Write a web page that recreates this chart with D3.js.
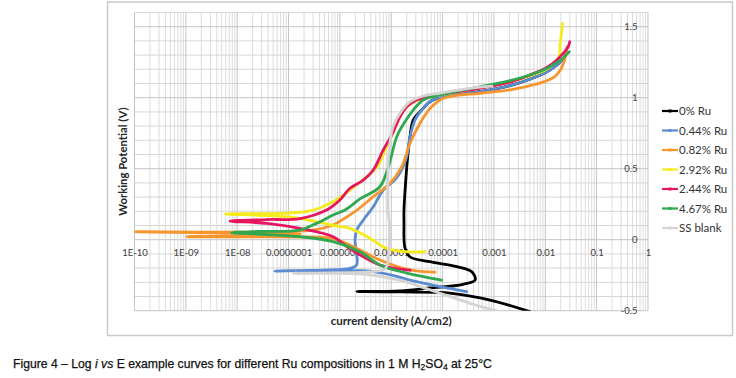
<!DOCTYPE html>
<html>
<head>
<meta charset="utf-8">
<script src="https://cdn.jsdelivr.net/npm/d3@7"></script>
<style>
  body { margin: 0; background: #fff; }
  svg { display: block; }
</style>
</head>
<body>
<div id="chart"></div>
<script>
// Polarisation curves, each point is [current density (A/cm2), potential (V)] in scan order
const ru0 = [[5.0e-3,-0.507],[8.4e-4,-0.425],[1.39e-4,-0.377],[8.9e-5,-0.371],[1.48e-5,-0.368],[2.15e-6,-0.365],[1.5e-5,-0.36],[5.7e-5,-0.34],[2.5e-4,-0.314],[4.3e-4,-0.284],[3.74e-4,-0.227],[1.9e-4,-0.19],[5.7e-5,-0.155],[2.3e-5,-0.12],[1.85e-5,-0.058],[1.77e-5,0.118],[1.77e-5,0.209],[1.94e-5,0.444],[2.06e-5,0.561],[2.32e-5,0.725],[2.68e-5,0.843],[3.9e-5,0.913],[5.7e-5,0.972],[1.03e-4,1.007],[5.3e-4,1.042],[2.06e-3,1.085],[5.0e-3,1.13],[9.9e-3,1.175],[1.55e-2,1.22],[2.2e-2,1.27],[2.65e-2,1.321]];
const ru044 = [[2.94e-4,-0.366],[8.9e-5,-0.331],[3.13e-5,-0.296],[4.47e-6,-0.225],[5.4e-8,-0.221],[6.4e-7,-0.213],[1.57e-6,-0.201],[2.12e-6,-0.178],[1.97e-6,-0.002],[2.12e-6,0.068],[2.86e-6,0.139],[4.47e-6,0.232],[7.0e-6,0.35],[1.18e-5,0.421],[1.6e-5,0.491],[2.0e-5,0.585],[2.32e-5,0.725],[2.9e-5,0.843],[3.9e-5,0.913],[5.7e-5,0.972],[1.03e-4,1.007],[5.3e-4,1.042],[2.06e-3,1.085],[5.0e-3,1.13],[9.9e-3,1.175],[1.55e-2,1.22],[2.2e-2,1.27],[2.65e-2,1.321]];
const ru082 = [[7.1e-5,-0.229],[2.3e-5,-0.213],[6.0e-6,-0.143],[1.57e-6,-0.037],[6.4e-7,0.012],[3.0e-7,0.019],[1.04e-9,0.021],[1.7e-7,0.04],[1.02e-10,0.056],[3.0e-7,0.068],[7.4e-7,0.104],[1.26e-6,0.153],[2.15e-6,0.209],[4.47e-6,0.303],[9.5e-6,0.397],[1.6e-5,0.514],[2.32e-5,0.679],[3.63e-5,0.82],[5.7e-5,0.925],[8.9e-5,0.984],[1.61e-4,1.012],[5.3e-4,1.031],[2.06e-3,1.055],[5.0e-3,1.085],[9.9e-3,1.115],[1.55e-2,1.15],[2.0e-2,1.2],[2.4e-2,1.27],[2.65e-2,1.357]];
const ru292 = [[4.5e-5,-0.085],[2.0e-5,-0.085],[8.1e-6,-0.061],[3.85e-6,0.01],[1.57e-6,0.08],[1.0e-6,0.092],[3.5e-7,0.127],[9.2e-8,0.162],[5.8e-9,0.181],[9.2e-8,0.187],[3.0e-7,0.209],[7.4e-7,0.268],[1.26e-6,0.322],[2.46e-6,0.406],[5.3e-6,0.512],[7.6e-6,0.632],[1.08e-5,0.751],[1.48e-5,0.865],[2.12e-5,0.942],[3.63e-5,0.991],[8.9e-5,1.019],[5.3e-4,1.068],[2.06e-3,1.11],[5.0e-3,1.155],[9.9e-3,1.195],[1.5e-2,1.24],[1.85e-2,1.29],[1.95e-2,1.38],[2.18e-2,1.524]];
const ru244 = [[2.32e-5,-0.215],[1.28e-5,-0.203],[6.0e-6,-0.178],[2.86e-6,-0.12],[1.36e-6,-0.049],[7.4e-7,0.021],[1.67e-7,0.08],[3.75e-8,0.115],[7.2e-9,0.131],[3.75e-8,0.142],[1.67e-7,0.149],[5.5e-7,0.209],[1.0e-6,0.28],[1.57e-6,0.362],[2.86e-6,0.42],[4.47e-6,0.491],[7.0e-6,0.632],[1.02e-5,0.737],[1.48e-5,0.866],[2.0e-5,0.937],[3.13e-5,0.984],[5.7e-5,1.012],[5.3e-4,1.066],[2.06e-3,1.11],[5.0e-3,1.16],[9.9e-3,1.205],[1.55e-2,1.255],[2.2e-2,1.31],[2.8e-2,1.36],[3.0e-2,1.394]];
const ru467 = [[9.6e-5,-0.284],[2.0e-5,-0.235],[6.0e-6,-0.178],[2.46e-6,-0.085],[7.4e-7,-0.014],[1.67e-7,0.021],[2.5e-8,0.04],[7.8e-9,0.049],[2.5e-8,0.058],[1.67e-7,0.068],[3.5e-7,0.115],[7.4e-7,0.174],[1.26e-6,0.209],[2.46e-6,0.287],[6.0e-6,0.373],[8.8e-6,0.514],[1.28e-5,0.725],[1.85e-5,0.831],[2.68e-5,0.913],[4.2e-5,0.984],[8.9e-5,1.019],[5.3e-4,1.077],[2.06e-3,1.12],[5.0e-3,1.16],[9.9e-3,1.2],[1.55e-2,1.24],[2.3e-2,1.285],[2.93e-2,1.324]];
const ssBlank = [[1.31e-3,-0.507],[3.42e-4,-0.448],[5.7e-5,-0.353],[1.48e-5,-0.287],[2.86e-6,-0.242],[1.24e-7,-0.237],[7.0e-6,-0.213],[8.1e-6,-0.19],[8.8e-6,-0.12],[9.2e-6,0.115],[8.6e-6,0.209],[9.0e-6,0.611],[1.08e-5,0.794],[1.62e-5,0.913],[2.3e-5,0.97],[3.63e-5,1.005],[8.9e-5,1.033],[5.3e-4,1.075],[9.2e-4,1.082]];

const seriesNames = ["0% Ru", "0.44% Ru", "0.82% Ru", "2.92% Ru", "2.44% Ru", "4.67% Ru", "SS blank"];
const seriesData = [ru0, ru044, ru082, ru292, ru244, ru467, ssBlank];
const seriesColors = ["#000000", "#5b8bd0", "#f7962f", "#f5eb1c", "#e5175e", "#2fa84f", "#d4d4d4"];

const xTicks = [1e-10, 1e-9, 1e-8, 1e-7, 1e-6, 1e-5, 1e-4, 1e-3, 1e-2, 1e-1, 1];
const xTickLabels = ["1E-10", "1E-09", "1E-08", "0.0000001", "0.000001", "0.00001", "0.0001", "0.001", "0.01", "0.1", "1"];
const yTicks = [-0.5, 0, 0.5, 1, 1.5];

const width = 736;
const height = 378;
const plot = { left: 134.5, right: 648, top: 12.5, bottom: 310.7 };

const svg = d3.select("#chart").append("svg")
    .attr("width", width)
    .attr("height", height);

// chart frame
svg.append("rect")
    .attr("x", 107.5).attr("y", 2)
    .attr("width", 625).attr("height", 333.5)
    .attr("fill", "#fff")
    .attr("stroke", "#c9c9c9")
    .attr("stroke-width", 1.5);

const x = d3.scaleLog().domain([1e-10, 1]).range([plot.left, plot.right]);
const y = d3.scaleLinear().domain([-0.5, 1.6]).range([plot.bottom, plot.top]);

// gridlines
const grid = svg.append("g");
const minorX = [];
xTicks.slice(0, -1).forEach(d => { for (let k = 2; k <= 9; k++) minorX.push(d * k); });
grid.selectAll(".mx").data(minorX).enter().append("line")
    .attr("x1", d => x(d)).attr("x2", d => x(d))
    .attr("y1", plot.top).attr("y2", plot.bottom)
    .attr("stroke", "#dcdcdc").attr("stroke-width", 1);
const hLines = d3.range(-5, 17).map(d => d / 10);
grid.selectAll(".hy").data(hLines).enter().append("line")
    .attr("x1", plot.left).attr("x2", plot.right)
    .attr("y1", d => y(d)).attr("y2", d => y(d))
    .attr("stroke", d => (Math.abs(d * 2 - Math.round(d * 2)) < 1e-6) ? "#c4c4c4" : "#d6d6d6")
    .attr("stroke-width", 1);
grid.selectAll(".Mx").data(xTicks).enter().append("line")
    .attr("x1", d => x(d)).attr("x2", d => x(d))
    .attr("y1", plot.top).attr("y2", plot.bottom)
    .attr("stroke", "#c4c4c4").attr("stroke-width", 1);

// axes (labels only)
const xAxis = d3.axisBottom(x)
    .tickValues(xTicks)
    .tickFormat((d, i) => xTickLabels[i])
    .tickSize(0)
    .tickPadding(10);
const gx = svg.append("g")
    .attr("transform", `translate(0,${y(0)})`)
    .call(xAxis);
gx.select(".domain").remove();
gx.selectAll("text")
    .style("font-family", "Lato, 'Open Sans', sans-serif")
    .style("font-size", "9.5px")
    .attr("fill", "#404040");

const yAxis = d3.axisLeft(y)
    .tickValues(yTicks)
    .tickFormat(d => String(d))
    .tickSize(0)
    .tickPadding(10.5);
const gy = svg.append("g")
    .attr("transform", `translate(${plot.right},0)`)
    .call(yAxis);
gy.select(".domain").remove();
gy.selectAll("text")
    .style("font-family", "Lato, 'Open Sans', sans-serif")
    .style("font-size", "9.5px")
    .attr("fill", "#404040");

// series
svg.append("clipPath").attr("id", "clip")
    .append("rect")
    .attr("x", plot.left).attr("y", plot.top)
    .attr("width", plot.right - plot.left).attr("height", plot.bottom - plot.top);

const line = d3.line()
    .x(d => x(d[0]))
    .y(d => y(d[1]))
    .curve(d3.curveCatmullRom.alpha(0.5));

svg.append("g").attr("clip-path", "url(#clip)")
    .selectAll("path")
    .data(seriesData)
    .enter().append("path")
    .attr("d", line)
    .attr("fill", "none")
    .attr("stroke", (d, i) => seriesColors[i])
    .attr("stroke-width", 2.8)
    .attr("stroke-linejoin", "round")
    .attr("stroke-linecap", "round");

// axis titles
svg.append("text")
    .attr("transform", `translate(127,${(plot.top + plot.bottom) / 2}) rotate(-90)`)
    .attr("text-anchor", "middle")
    .style("font-family", "Lato, 'Open Sans', sans-serif")
    .style("font-weight", "bold")
    .style("font-size", "11.3px")
    .attr("fill", "#262626")
    .text("Working Potential (V)");

svg.append("text")
    .attr("x", (plot.left + plot.right) / 2)
    .attr("y", 325)
    .attr("text-anchor", "middle")
    .style("font-family", "Lato, 'Open Sans', sans-serif")
    .style("font-weight", "bold")
    .style("font-size", "11.5px")
    .attr("fill", "#262626")
    .text("current density (A/cm2)");

// legend
const legend = svg.append("g").attr("transform", "translate(662,111)");
const items = legend.selectAll(".legendItem")
    .data(seriesNames)
    .enter().append("g")
    .attr("class", "legendItem")
    .attr("transform", (d, i) => `translate(0,${i * 19.5})`);
items.append("line")
    .attr("x1", 0).attr("x2", 16)
    .attr("stroke", (d, i) => seriesColors[i])
    .attr("stroke-width", 2.2);
items.append("rect")
    .attr("x", 6.5).attr("y", -1.5)
    .attr("width", 3).attr("height", 3)
    .attr("fill", (d, i) => seriesColors[i]);
items.append("text")
    .attr("x", 17)
    .attr("dy", "0.35em")
    .style("font-family", "Lato, 'Open Sans', sans-serif")
    .style("font-size", "11.5px")
    .attr("fill", "#333")
    .text(d => d);

// caption
const cap = svg.append("text")
    .attr("x", 13)
    .attr("y", 367.5)
    .style("font-family", "'Liberation Sans', Arial, sans-serif")
    .style("font-size", "12.2px")
    .attr("fill", "#111")
    .attr("stroke", "#111")
    .attr("stroke-width", 0.25);
cap.append("tspan").text("Figure 4 – Log ");
cap.append("tspan").style("font-style", "italic").text("i vs");
cap.append("tspan").text(" E example curves for different Ru compositions in 1 M H");
cap.append("tspan").attr("dy", 2.8).style("font-size", "8.5px").text("2");
cap.append("tspan").attr("dy", -2.8).text("SO");
cap.append("tspan").attr("dy", 2.8).style("font-size", "8.5px").text("4");
cap.append("tspan").attr("dy", -2.8).text(" at 25°C");
</script>
</body>
</html>
